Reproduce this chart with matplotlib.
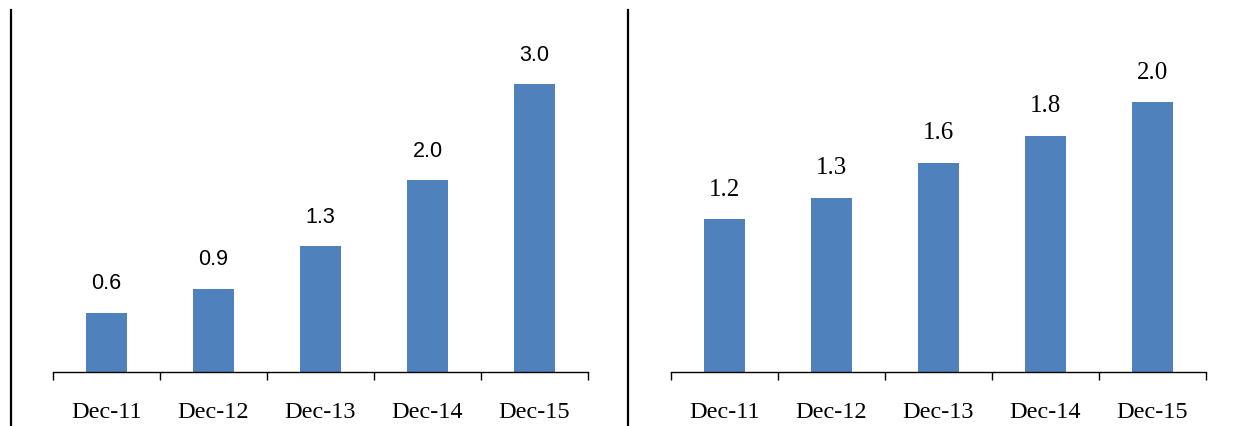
import matplotlib
matplotlib.use("Agg")
import matplotlib.pyplot as plt
from matplotlib.lines import Line2D

categories = ["Dec-11", "Dec-12", "Dec-13", "Dec-14", "Dec-15"]
left_values = [0.62, 0.87, 1.31, 2.0, 3.0]
left_labels = ["0.6", "0.9", "1.3", "2.0", "3.0"]
right_values = [1.13, 1.29, 1.55, 1.75, 2.0]
right_labels = ["1.2", "1.3", "1.6", "1.8", "2.0"]

BLUE = "#4F81BD"
W, H = 1234, 427

fig = plt.figure(figsize=(W / 100, H / 100), dpi=100)

def panel(x0, values, labels, ymax, label_family, label_size):
    ax = fig.add_axes([x0 / W, (H - 373) / H, 535 / W, 362 / H])
    x = range(len(categories))
    ax.bar(x, values, width=0.39, color=BLUE)
    ax.set_xlim(-0.5, len(categories) - 0.5)
    ax.set_ylim(0, ymax)
    for xi, v, lab in zip(x, values, labels):
        ax.annotate(lab, (xi, v), xytext=(0, 14), textcoords="offset points",
                    ha="center", va="bottom", fontsize=label_size,
                    family=label_family)
    for s in ("top", "right", "left"):
        ax.spines[s].set_visible(False)
    ax.spines["bottom"].set_linewidth(1.0)
    ax.set_yticks([])
    ax.set_xticks([i - 0.5 for i in range(len(categories) + 1)])
    ax.set_xticklabels([])
    ax.tick_params(axis="x", which="major", length=6, width=1.0,
                   direction="out")
    ax.set_xticks(list(x), minor=True)
    ax.set_xticklabels(categories, minor=True, fontsize=17.5,
                       family="Liberation Serif")
    ax.tick_params(axis="x", which="minor", length=0, pad=21)
    return ax

panel(53, left_values, left_labels, 362 / 95.9, "Liberation Sans", 15.5)
panel(671, right_values, right_labels, 362 / 135.0, "Liberation Serif", 18)

for xp in (11, 628):
    fig.add_artist(Line2D([xp / W, xp / W], [0, (H - 11) / H],
                          color="black", linewidth=1.6))

fig.savefig("out.png", dpi=100, facecolor="white")
